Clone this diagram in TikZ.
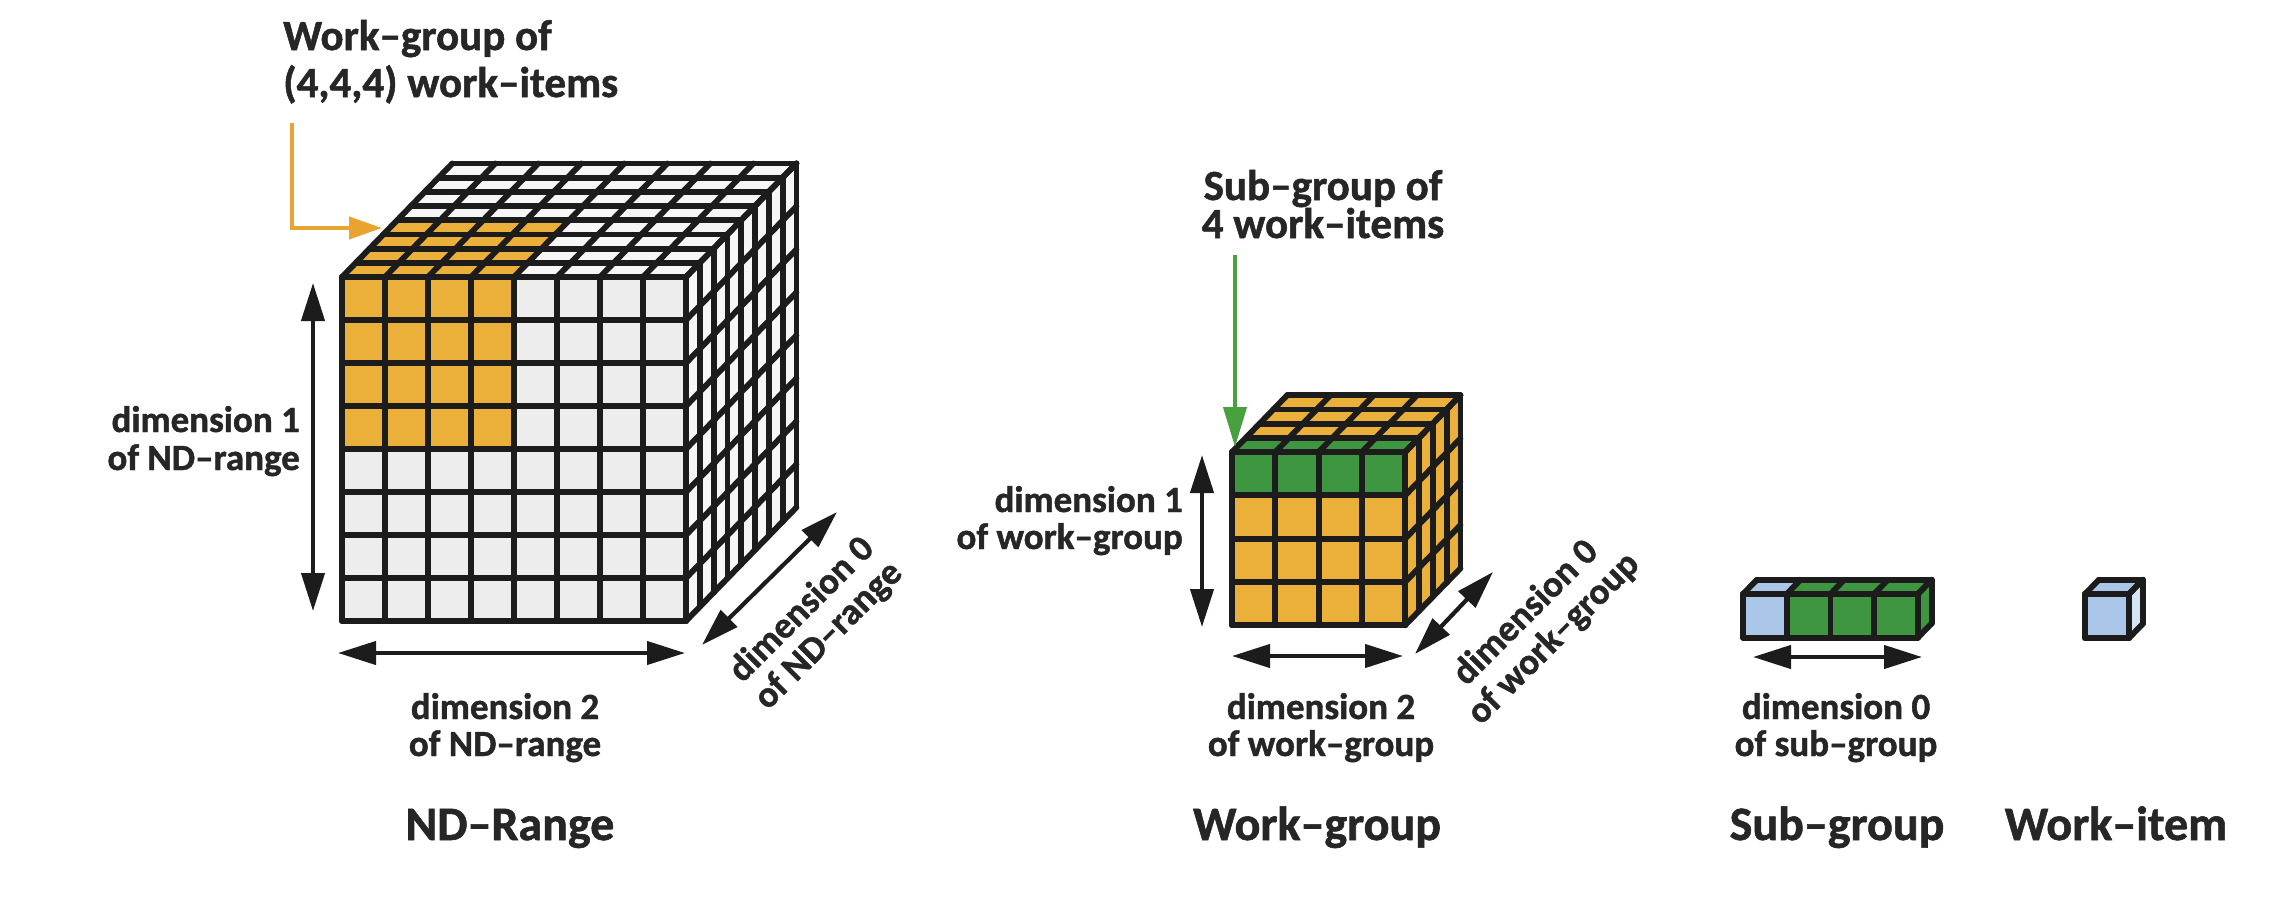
\documentclass[tikz,border=0pt]{standalone}
\usepackage{fontspec}
\setmainfont{Carlito}[BoldFeatures={FakeBold=1.2}]
\usetikzlibrary{arrows.meta}
\definecolor{orng}{RGB}{235,176,58}
\definecolor{orarrow}{RGB}{232,163,48}
\definecolor{cellgray}{RGB}{237,237,237}
\definecolor{facewhite}{RGB}{246,246,246}
\definecolor{grn}{RGB}{62,150,64}
\definecolor{grnarrow}{RGB}{72,160,62}
\definecolor{lblue}{RGB}{170,198,232}
\definecolor{lbluelight}{RGB}{214,228,245}
\definecolor{txt}{RGB}{38,38,38}
\definecolor{ink}{RGB}{28,28,28}
\def\DX{13.8}
\def\DY{-14.2}
\newcommand\cubegrid{%
  \foreach \i in {0,...,\N} \draw[gridline] ({\X+\i*\C},\Y) -- ({\X+\i*\C},{\Y+\M*\C});
  \foreach \j in {0,...,\M} \draw[gridline] (\X,{\Y+\j*\C}) -- ({\X+\N*\C},{\Y+\j*\C});
  \foreach \i in {0,...,\N} \draw[gridline] ({\X+\i*\C},\Y) -- ({\X+\i*\C+\D*\DX},{\Y+\D*\DY});
  \foreach \k in {0,...,\D} \draw[gridline] ({\X+\k*\DX},{\Y+\k*\DY}) -- ({\X+\N*\C+\k*\DX},{\Y+\k*\DY});
  \foreach \k in {0,...,\D} \draw[gridline] ({\X+\N*\C+\k*\DX},{\Y+\k*\DY}) -- ({\X+\N*\C+\k*\DX},{\Y+\M*\C+\k*\DY});
  \foreach \j in {0,...,\M} \draw[gridline] ({\X+\N*\C},{\Y+\j*\C}) -- ({\X+\N*\C+\D*\DX},{\Y+\j*\C+\D*\DY});
}
\newcommand\topface[4]{% col0 col1 dep0 dep1
  ({\X+#1*\C+#3*\DX},{\Y+#3*\DY}) -- ({\X+#2*\C+#3*\DX},{\Y+#3*\DY}) -- ({\X+#2*\C+#4*\DX},{\Y+#4*\DY}) -- ({\X+#1*\C+#4*\DX},{\Y+#4*\DY}) -- cycle}
\newcommand\rightface{%
  ({\X+\N*\C},\Y) -- ({\X+\N*\C+\D*\DX},{\Y+\D*\DY}) -- ({\X+\N*\C+\D*\DX},{\Y+\M*\C+\D*\DY}) -- ({\X+\N*\C},{\Y+\M*\C}) -- cycle}
\begin{document}
\begin{tikzpicture}[x=1pt,y=-1pt,
  gridline/.style={draw=ink, line width=5.8pt, line join=round, line cap=round},
  dimarrow/.style={draw=ink, line width=4.2pt, {Triangle[length=38pt,width=23pt]}-{Triangle[length=38pt,width=23pt]}},
  lab/.style={font=\fontsize{37}{37}\selectfont\bfseries, text=txt, inner sep=0pt},
  ann/.style={font=\fontsize{43}{43}\selectfont\bfseries, text=txt, inner sep=0pt},
  ttl/.style={font=\fontsize{48}{48}\selectfont\bfseries, text=txt, inner sep=0pt},
]
\useasboundingbox (0,0) rectangle (2286,910);
\fill[white] (0,0) rectangle (2286,910);

% ---------- ND-range cube ----------
\begin{scope}
\def\X{342}\def\Y{277}\def\C{43}\def\N{8}\def\M{8}\def\D{8}
\fill[cellgray] (\X,\Y) rectangle ({\X+\N*\C},{\Y+\M*\C});
\fill[orng] (\X,\Y) rectangle ({\X+4*\C},{\Y+4*\C});
\fill[facewhite] \topface{0}{8}{0}{8};
\fill[orng] \topface{0}{4}{0}{4};
\fill[facewhite] \rightface;
\cubegrid
\end{scope}

% ---------- Work-group cube ----------
\begin{scope}
\def\X{1232}\def\Y{452}\def\C{43.3}\def\N{4}\def\M{4}\def\D{4}
\fill[orng] (\X,\Y) rectangle ({\X+\N*\C},{\Y+\M*\C});
\fill[grn] (\X,\Y) rectangle ({\X+4*\C},{\Y+\C});
\fill[orng] \topface{0}{4}{0}{4};
\fill[grn] \topface{0}{4}{0}{1};
\fill[orng] \rightface;
\cubegrid
\end{scope}

% ---------- Sub-group bar ----------
\begin{scope}
\def\X{1743}\def\Y{594}\def\C{43.7}\def\N{4}\def\M{1}\def\D{1}
\fill[grn] (\X,\Y) rectangle ({\X+\N*\C},{\Y+\M*\C});
\fill[lblue] (\X,\Y) rectangle ({\X+\C},{\Y+\C});
\fill[grn] \topface{0}{4}{0}{1};
\fill[lblue] \topface{0}{1}{0}{1};
\fill[grn] \rightface;
\cubegrid
\end{scope}

% ---------- Work-item ----------
\begin{scope}
\def\X{2085}\def\Y{594}\def\C{44}\def\N{1}\def\M{1}\def\D{1}
\fill[lblue] (\X,\Y) rectangle ({\X+\C},{\Y+\C});
\fill[lblue] \topface{0}{1}{0}{1};
\fill[lbluelight] \rightface;
\cubegrid
\end{scope}

% ---------- dimension arrows ----------
\coordinate (nd1a) at (313,283); \coordinate (nd1b) at (313,611);
\coordinate (nd2a) at (338,653); \coordinate (nd2b) at (685,653);
\coordinate (nd0a) at (702,645); \coordinate (nd0b) at (837,512);
\coordinate (wg1a) at (1202,455); \coordinate (wg1b) at (1202,627);
\coordinate (wg2a) at (1232,656); \coordinate (wg2b) at (1403,656);
\coordinate (wg0a) at (1415,654); \coordinate (wg0b) at (1493,572);
\coordinate (sg0a) at (1753,657); \coordinate (sg0b) at (1922,657);
\draw[dimarrow] (nd1a) -- (nd1b);
\draw[dimarrow] (nd2a) -- (nd2b);
\draw[dimarrow] (nd0a) -- (nd0b);
\draw[dimarrow] (wg1a) -- (wg1b);
\draw[dimarrow] (wg2a) -- (wg2b);
\draw[dimarrow] (wg0a) -- (wg0b);
\draw[dimarrow] (sg0a) -- (sg0b);

% ---------- pointer arrows ----------
\coordinate (oa) at (292,123); \coordinate (ob) at (382,228);
\draw[orarrow, line width=4.2pt, -{Triangle[length=33pt,width=22pt]}] (oa) |- (ob);
\coordinate (ga) at (1235,255); \coordinate (gb) at (1235,447);
\draw[grnarrow, line width=4.2pt, -{Triangle[length=40pt,width=23pt]}] (ga) -- (gb);

% ---------- annotations ----------
\node[ann, anchor=base west] (wgofa) at (283,50) {Work–group of};
\node[ann, anchor=base west] (wgofb) at (283,97) {(4,4,4) work–items};
\node[ann, anchor=base] (sgofa) at (1323,200) {Sub–group of};
\node[ann, anchor=base] (sgofb) at (1323,238) {4 work–items};

% ---------- dimension labels ----------
\node[lab, anchor=base east] (l1a) at (300,432) {dimension 1};
\node[lab, anchor=base east] (l1b) at (300,470) {of ND–range};
\node[lab, anchor=base] (l2a) at (505,719) {dimension 2};
\node[lab, anchor=base] (l2b) at (505,756) {of ND–range};
\node[lab, rotate=45] (l0a) at (800,608) {dimension 0};
\node[lab, rotate=45] (l0b) at (829,636) {of ND–range};

\node[lab, anchor=base east] (w1a) at (1183,512) {dimension 1};
\node[lab, anchor=base east] (w1b) at (1183,549) {of work–group};
\node[lab, anchor=base] (w2a) at (1321,719) {dimension 2};
\node[lab, anchor=base] (w2b) at (1321,756) {of work–group};
\node[lab, rotate=45] (w0a) at (1524,611) {dimension 0};
\node[lab, rotate=45] (w0b) at (1554,639) {of work–group};

\node[lab, anchor=base] (s0a) at (1836,719) {dimension 0};
\node[lab, anchor=base] (s0b) at (1836,756) {of sub–group};

% ---------- titles ----------
\node[ttl, anchor=base] (t1) at (510,840) {ND–Range};
\node[ttl, anchor=base] (t2) at (1317,840) {Work–group};
\node[ttl, anchor=base] (t3) at (1837,840) {Sub–group};
\node[ttl, anchor=base] (t4) at (2116,840) {Work–item};
\end{tikzpicture}
\end{document}
